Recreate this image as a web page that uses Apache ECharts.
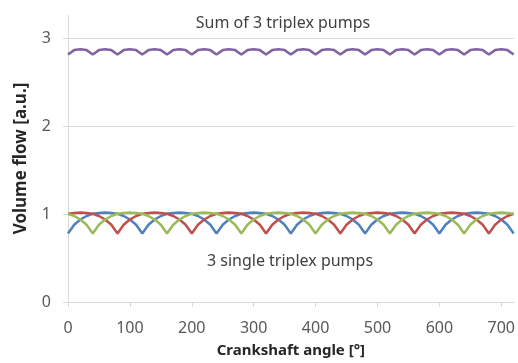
<!DOCTYPE html>
<html>
<head>
<meta charset="utf-8">
<script src="https://cdn.jsdelivr.net/npm/echarts@6/dist/echarts.min.js"></script>
<style>
  html, body { margin: 0; padding: 0; background: #fff; }
  #chart { width: 518px; height: 363px; }
</style>
</head>
<body>
<div id="chart"></div>
<script>
// crankshaft angle in degrees, sampled every 10°
const angles = [
  0, 10, 20, 30, 40, 50, 60, 70, 80, 90, 100, 110,
  120, 130, 140, 150, 160, 170, 180, 190, 200, 210, 220, 230,
  240, 250, 260, 270, 280, 290, 300, 310, 320, 330, 340, 350,
  360, 370, 380, 390, 400, 410, 420, 430, 440, 450, 460, 470,
  480, 490, 500, 510, 520, 530, 540, 550, 560, 570, 580, 590,
  600, 610, 620, 630, 640, 650, 660, 670, 680, 690, 700, 710,
  720
]

const pumpBlue = [
  0.78, 0.88, 0.94, 0.98, 1.005, 1.015, 1.02, 1.015, 1.005, 0.98, 0.94, 0.88,
  0.78, 0.88, 0.94, 0.98, 1.005, 1.015, 1.02, 1.015, 1.005, 0.98, 0.94, 0.88,
  0.78, 0.88, 0.94, 0.98, 1.005, 1.015, 1.02, 1.015, 1.005, 0.98, 0.94, 0.88,
  0.78, 0.88, 0.94, 0.98, 1.005, 1.015, 1.02, 1.015, 1.005, 0.98, 0.94, 0.88,
  0.78, 0.88, 0.94, 0.98, 1.005, 1.015, 1.02, 1.015, 1.005, 0.98, 0.94, 0.88,
  0.78, 0.88, 0.94, 0.98, 1.005, 1.015, 1.02, 1.015, 1.005, 0.98, 0.94, 0.88,
  0.78
]

const pumpRed = [
  1.005, 1.015, 1.02, 1.015, 1.005, 0.98, 0.94, 0.88, 0.78, 0.88, 0.94, 0.98,
  1.005, 1.015, 1.02, 1.015, 1.005, 0.98, 0.94, 0.88, 0.78, 0.88, 0.94, 0.98,
  1.005, 1.015, 1.02, 1.015, 1.005, 0.98, 0.94, 0.88, 0.78, 0.88, 0.94, 0.98,
  1.005, 1.015, 1.02, 1.015, 1.005, 0.98, 0.94, 0.88, 0.78, 0.88, 0.94, 0.98,
  1.005, 1.015, 1.02, 1.015, 1.005, 0.98, 0.94, 0.88, 0.78, 0.88, 0.94, 0.98,
  1.005, 1.015, 1.02, 1.015, 1.005, 0.98, 0.94, 0.88, 0.78, 0.88, 0.94, 0.98,
  1.005
]

const pumpGreen = [
  1.005, 0.98, 0.94, 0.88, 0.78, 0.88, 0.94, 0.98, 1.005, 1.015, 1.02, 1.015,
  1.005, 0.98, 0.94, 0.88, 0.78, 0.88, 0.94, 0.98, 1.005, 1.015, 1.02, 1.015,
  1.005, 0.98, 0.94, 0.88, 0.78, 0.88, 0.94, 0.98, 1.005, 1.015, 1.02, 1.015,
  1.005, 0.98, 0.94, 0.88, 0.78, 0.88, 0.94, 0.98, 1.005, 1.015, 1.02, 1.015,
  1.005, 0.98, 0.94, 0.88, 0.78, 0.88, 0.94, 0.98, 1.005, 1.015, 1.02, 1.015,
  1.005, 0.98, 0.94, 0.88, 0.78, 0.88, 0.94, 0.98, 1.005, 1.015, 1.02, 1.015,
  1.005
]

// sum of the three pumps
const pumpSum = [
  2.82, 2.87, 2.88, 2.87, 2.82, 2.87, 2.88, 2.87, 2.82, 2.87, 2.88, 2.87,
  2.82, 2.87, 2.88, 2.87, 2.82, 2.87, 2.88, 2.87, 2.82, 2.87, 2.88, 2.87,
  2.82, 2.87, 2.88, 2.87, 2.82, 2.87, 2.88, 2.87, 2.82, 2.87, 2.88, 2.87,
  2.82, 2.87, 2.88, 2.87, 2.82, 2.87, 2.88, 2.87, 2.82, 2.87, 2.88, 2.87,
  2.82, 2.87, 2.88, 2.87, 2.82, 2.87, 2.88, 2.87, 2.82, 2.87, 2.88, 2.87,
  2.82, 2.87, 2.88, 2.87, 2.82, 2.87, 2.88, 2.87, 2.82, 2.87, 2.88, 2.87,
  2.82
]

const xTicks = [0, 100, 200, 300, 400, 500, 600, 700]
const yTicks = [0, 1, 2, 3]

const FONT = "'Noto Sans', 'Open Sans', sans-serif"
const GRID_COLOR = "#d9d9d9"

const chart = echarts.init(document.getElementById("chart"))

const line = (name, values, color) => ({
  name,
  type: "line",
  data: angles.map((a, i) => [a, values[i]]),
  showSymbol: false,
  symbol: "none",
  lineStyle: { color, width: 2.5 },
  itemStyle: { color },
  animation: false,
})

chart.setOption({
  backgroundColor: "#fff",
  textStyle: { fontFamily: FONT },
  grid: { left: 68, right: 0, top: 15, bottom: 60 },
  xAxis: {
    type: "value",
    min: 0,
    max: 720,
    interval: 100,
    name: "Crankshaft angle [°]",
    nameLocation: "middle",
    nameGap: 41,
    nameTextStyle: { fontFamily: FONT, fontSize: 15, fontWeight: "bold", color: "#262626" },
    axisLine: { show: true, lineStyle: { color: GRID_COLOR, width: 1 } },
    axisTick: { show: true, length: 5, lineStyle: { color: GRID_COLOR }, customValues: xTicks },
    axisLabel: { color: "#595959", fontSize: 16, margin: 18, customValues: xTicks },
    splitLine: { show: false },
  },
  yAxis: {
    type: "value",
    min: 0,
    max: 3.27,
    interval: 1,
    name: "Volume flow [a.u.]",
    nameLocation: "middle",
    nameGap: 38,
    nameTextStyle: { fontFamily: FONT, fontSize: 17, fontWeight: "bold", color: "#262626" },
    axisLine: { show: true, lineStyle: { color: GRID_COLOR, width: 1 } },
    axisTick: { show: true, length: 5, lineStyle: { color: GRID_COLOR }, customValues: yTicks },
    axisLabel: { color: "#595959", fontSize: 16, margin: 17, customValues: yTicks },
    splitLine: { show: true, lineStyle: { color: GRID_COLOR, width: 1 } },
  },
  graphic: [
    {
      type: "text",
      x: 283,
      y: 23,
      style: {
        text: "Sum of 3 triplex pumps",
        font: `16px ${FONT}`,
        fill: "#404040",
        textAlign: "center",
        textVerticalAlign: "middle",
      },
    },
    {
      type: "text",
      x: 290,
      y: 261,
      style: {
        text: "3 single triplex pumps",
        font: `16px ${FONT}`,
        fill: "#404040",
        textAlign: "center",
        textVerticalAlign: "middle",
      },
    },
  ],
  series: [
    line("Pump 1", pumpBlue, "#4f81bd"),
    line("Pump 2", pumpRed, "#c0504d"),
    line("Pump 3", pumpGreen, "#9bbb59"),
    line("Sum", pumpSum, "#8064a2"),
  ],
})
</script>
</body>
</html>
